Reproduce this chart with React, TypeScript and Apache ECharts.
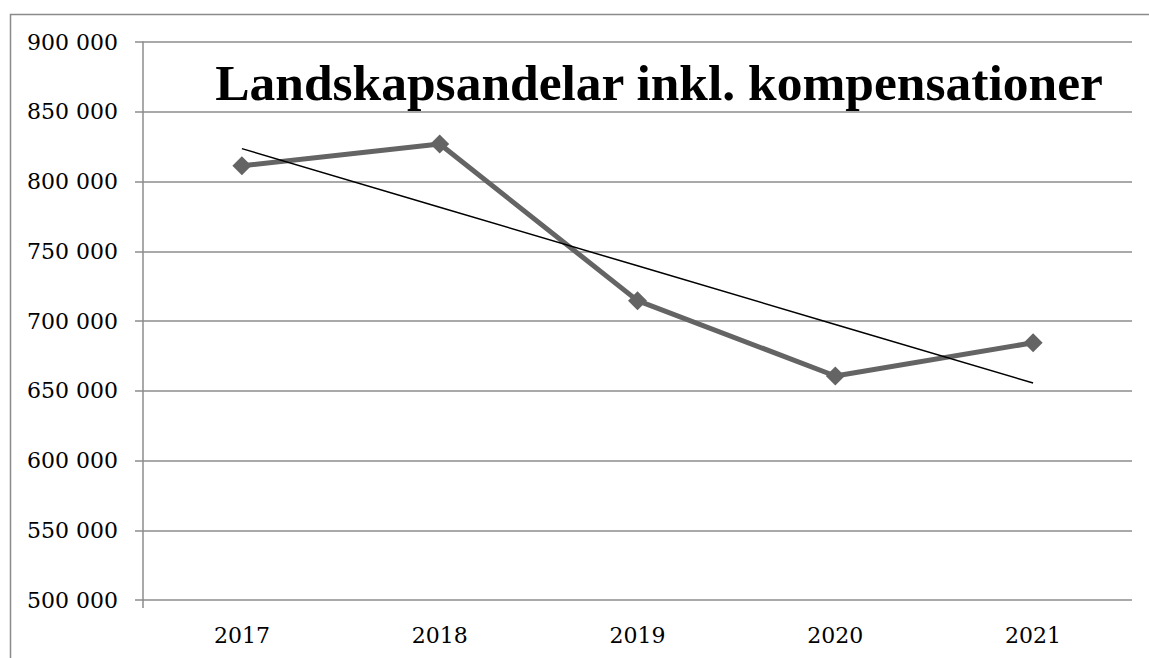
import React, { useEffect, useRef } from "react";
import * as echarts from "echarts";

const categories = ["2017", "2018", "2019", "2020", "2021"];
const values = [811300, 826900, 714600, 660600, 684400];
const yTicks = [500000, 550000, 600000, 650000, 700000, 750000, 800000, 850000, 900000];
const titleText = "Landskapsandelar inkl. kompensationer";

function linearTrend(ys: number[]): number[] {
  const n = ys.length;
  const xs = ys.map((_, i) => i);
  const mx = xs.reduce((a, b) => a + b, 0) / n;
  const my = ys.reduce((a, b) => a + b, 0) / n;
  let sxy = 0;
  let sxx = 0;
  for (let i = 0; i < n; i++) {
    sxy += (xs[i] - mx) * (ys[i] - my);
    sxx += (xs[i] - mx) * (xs[i] - mx);
  }
  const slope = sxy / sxx;
  return xs.map((x) => my + slope * (x - mx));
}

function fmt(v: number): string {
  return String(Math.round(v)).replace(/\B(?=(\d{3})+(?!\d))/g, " ");
}

export default function App() {
  const ref = useRef<HTMLDivElement>(null);
  useEffect(() => {
    document.body.style.margin = "0";
    if (!ref.current) return;
    const chart = echarts.init(ref.current, undefined, { renderer: "svg" });
    const trend = linearTrend(values);
    chart.setOption({
      animation: false,
      backgroundColor: "#ffffff",
      textStyle: { fontFamily: "DejaVu Serif" },
      graphic: [
        {
          type: "rect",
          left: 8,
          top: 12,
          shape: { width: 1300, height: 800 },
          style: { fill: "none", stroke: "#8a8a8a", lineWidth: 1.5 },
          silent: true,
          z: -1,
        },
        {
          type: "line",
          shape: { x1: 143, y1: 600, x2: 143, y2: 608 },
          style: { stroke: "#8c8c8c", lineWidth: 1.5 },
          silent: true,
        },
        {
          type: "text",
          x: 659,
          y: 56.5,
          style: {
            text: titleText,
            fontFamily: "Liberation Serif",
            fontWeight: "bold",
            fontSize: 51.5,
            fill: "#000000",
            textAlign: "center",
            textVerticalAlign: "top",
          },
          silent: true,
          z: 10,
        },
      ],
      grid: { left: 143, right: 17, top: 42, bottom: 58, containLabel: false },
      xAxis: {
        type: "category",
        data: categories,
        boundaryGap: true,
        axisLine: { show: false },
        axisTick: { show: false },
        axisLabel: { fontSize: 22, color: "#000", margin: 24, fontFamily: "DejaVu Serif" },
        splitLine: { show: false },
      },
      yAxis: {
        type: "value",
        min: yTicks[0],
        max: yTicks[yTicks.length - 1],
        interval: yTicks[1] - yTicks[0],
        axisLine: { show: true, lineStyle: { color: "#8c8c8c", width: 1.5 } },
        axisTick: { show: true, length: 8, lineStyle: { color: "#8c8c8c", width: 1.5 } },
        axisLabel: {
          fontSize: 22,
          color: "#000",
          margin: 25,
          fontFamily: "DejaVu Serif",
          formatter: (v: number) => fmt(v),
        },
        splitLine: { show: true, lineStyle: { color: "#8c8c8c", width: 1.5 } },
      },
      series: [
        {
          name: "Landskapsandelar",
          type: "line",
          data: values,
          symbol: "diamond",
          symbolSize: 19,
          lineStyle: { color: "#646464", width: 5 },
          itemStyle: { color: "#646464" },
          z: 2,
        },
        {
          name: "Trend",
          type: "line",
          data: trend,
          symbol: "none",
          lineStyle: { color: "#000000", width: 1.5 },
          z: 3,
        },
      ],
    });
    return () => chart.dispose();
  }, []);
  return <div ref={ref} style={{ width: 1149, height: 658 }} />;
}
